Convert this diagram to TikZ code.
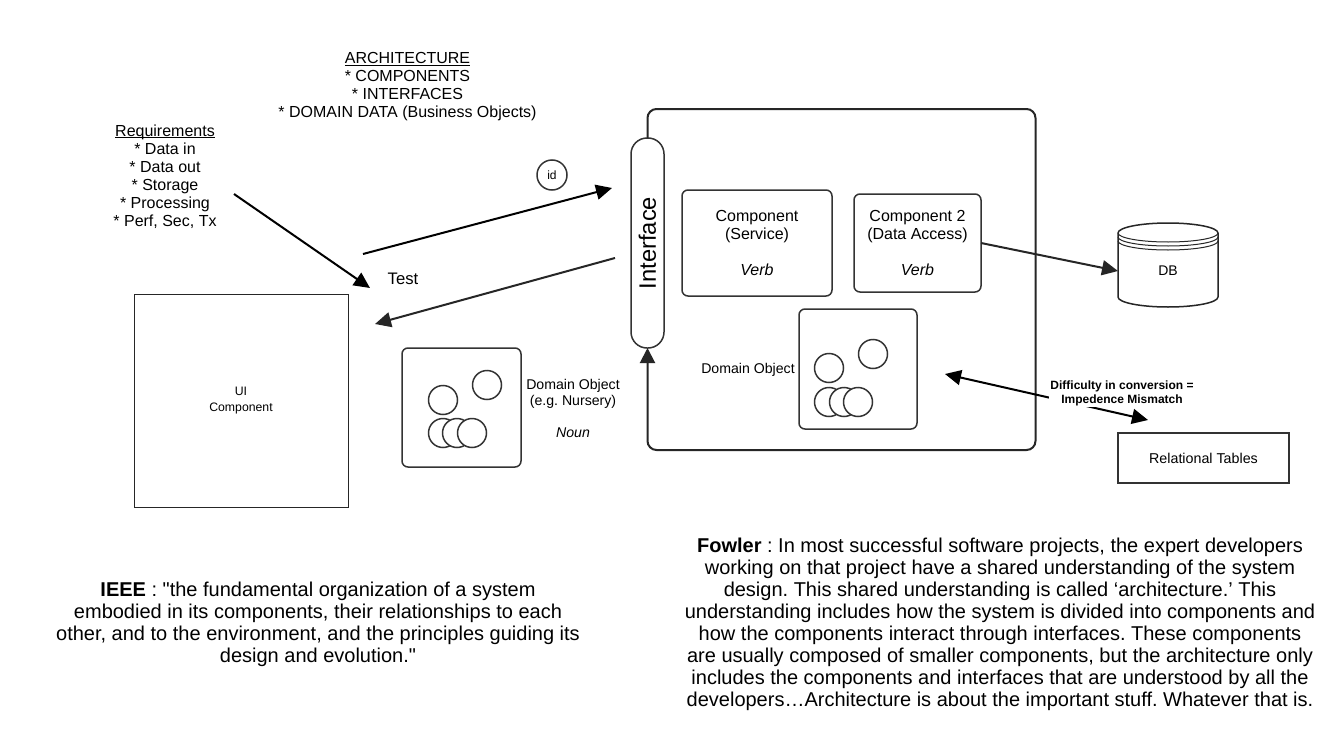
\documentclass[tikz,border=0pt]{standalone}
\usepackage{fontspec}
\setmainfont{Liberation Sans}
\newfontfamily\plainfont{Liberation Sans}
\usetikzlibrary{arrows.meta,positioning}
\def\u{.75pt}
\newsavebox\ulbox
\newcommand\ulined[1]{\sbox\ulbox{#1}\rlap{\rule[-1.4pt]{\wd\ulbox}{.6pt}}\usebox\ulbox}
\frenchspacing
\AtBeginDocument{\frenchspacing}
\tikzset{
  x=.75pt,y=-.75pt,
  box/.style={draw=black!80,line width=1.5*\u,rounded corners=6*\u,fill=white,inner sep=0pt,outer sep=0pt,align=center,font=\fontsize{12}{13.5}\selectfont},
  dot/.style={circle,draw=black!80,line width=1.5*\u,fill=white,minimum size=29*\u,inner sep=0pt,outer sep=0pt},
  arrow/.style={line width=2*\u,-{Triangle[length=16*\u,width=15*\u]}},
  small/.style={align=center,inner sep=0pt,font=\fontsize{12}{13.5}\selectfont},
  para/.style={align=center,inner sep=0pt,font=\fontsize{15}{16.5}\selectfont},
  square/.style={draw=black!85,inner sep=0pt,outer sep=0pt,align=center},
}
\begin{document}
\begin{tikzpicture}
\useasboundingbox[fill=white] (0,0) rectangle (1336,753);
% text blocks
\node[small] (arch) at (407.5,87) {\ulined{ARCHITECTURE}\\* COMPONENTS\\* INTERFACES\\* DOMAIN DATA (Business Objects)};
\node[small] (req) at (165,176.5) {\ulined{Requirements}\\* Data in\\* Data out\\* Storage\\* Processing\\* Perf, Sec, Tx};
% UI
\node[square,line width=1*\u,minimum width=214*\u,minimum height=213*\u,font=\fontsize{9.2}{12}\selectfont] (ui) at (241,400.5) {UI\\Component};
% interface + container
\node[box,rounded corners=16*\u,minimum width=33*\u,minimum height=210*\u,font=\fontsize{17.8}{18}\selectfont] (iface) at (647.5,243) {\rotatebox{90}{Interface}};
\draw[line width=2*\u,draw=black!85,rounded corners=9*\u,-{Triangle[length=15*\u,width=15*\u]}]
  (iface.north) -- (647.5,109) -- (1035.5,109) -- (1035.5,450) -- (647.5,450) -- (iface.south);
% components
\node[box,minimum width=150*\u,minimum height=106*\u] (c1) at (757,243) {Component\\(Service)\\[13.5pt]\textit{Verb}};
\node[box,minimum width=127*\u,minimum height=98*\u] (c2) at (917.5,243) {Component 2\\(Data Access)\\[13.5pt]\textit{Verb}};
% inner domain object
\node[box,minimum width=118*\u,minimum height=120*\u] (dobj) at (858,369) {};
\node[dot] (a1) at (829,368) {};
\node[dot] (a2) at (873,354) {};
\node[dot] (a3) at (829,402) {};
\node[dot] (a4) at (844,402) {};
\node[dot] (a5) at (858,402) {};
\node[small,font=\fontsize{10.6}{12}\selectfont,anchor=east] (dlabel) at (795,369.5) {Domain Object};
% left domain object
\node[box,minimum width=119*\u,minimum height=119*\u] (lobj) at (461.5,407.5) {};
\node[dot] (b1) at (443,400) {};
\node[dot] (b2) at (487,385) {};
\node[dot] (b3) at (443,433) {};
\node[dot] (b4) at (457,433) {};
\node[dot] (b5) at (472,433) {};
\node[small,font=\fontsize{10.6}{12.5}\selectfont] (llabel) at (573,408) {Domain Object\\(e.g. Nursery)\\[11pt]\textit{Noun}};
% id, Test
\node[circle,draw=black!80,line width=1.5*\u,minimum size=30*\u,inner sep=0pt,font=\fontsize{9}{10}\selectfont] (idn) at (552,175) {id};
\node[small,font=\fontsize{12.5}{14}\selectfont] (test) at (403,279) {Test};
% DB
\node[inner sep=0pt,outer sep=0pt,minimum width=100*\u,minimum height=20*\u,font=\fontsize{10.5}{12}\selectfont] (db) at (1168,271) {DB};
\draw[line width=1.5*\u,draw=black!85]
  (1118,233) arc[start angle=180,end angle=360,x radius=50,y radius=10]
  -- (1218,297) arc[start angle=0,end angle=180,x radius=50,y radius=10] -- cycle;
\draw[line width=1*\u,draw=black!85] (1118,233) arc[start angle=180,end angle=0,x radius=50,y radius=9];
\draw[line width=1*\u,draw=black!85] (1118,237) arc[start angle=180,end angle=0,x radius=50,y radius=9];
\draw[line width=1*\u,draw=black!85] (1118,241) arc[start angle=180,end angle=0,x radius=50,y radius=9];
% relational
\node[square,line width=1.5*\u,draw=black!80,minimum width=171*\u,minimum height=50*\u,font=\fontsize{10.7}{12}\selectfont] (rel) at (1203.5,458) {Relational Tables};
% arrows
\coordinate (s1) at (363,254);
\coordinate (e1) at (612,188);
\coordinate (s2) at (615,258);
\coordinate (e2) at (375,324);
\coordinate (s3) at (234,194);
\coordinate (e3) at (370,288);
\coordinate (s4) at (945,374);
\coordinate (e4) at (1148,420);
\draw[arrow] (s1) -- (e1);
\draw[arrow,draw=black!85] (s2) -- (e2);
\draw[arrow] (s3) -- (e3);
\draw[arrow,draw=black!85] (c2.east) -- (db.west);
\draw[line width=2*\u,{Triangle[length=16*\u,width=15*\u]}-{Triangle[length=16*\u,width=15*\u]}] (s4) -- (e4);
\node[fill=white,inner sep=1pt,align=center,font=\bfseries\fontsize{9}{10.5}\selectfont] (diff) at (1122,393.5) {Difficulty in conversion =\\Impedence Mismatch};
% paragraphs
\node[para] (ieee) at (318,624.5) {\textbf{IEEE} : {\plainfont"}the fundamental organization of a system\\embodied in its components, their relationships to each\\other, and to the environment, and the principles guiding its\\design and evolution.{\plainfont"}};
\node[para] (fowler) at (1000,624.5) {\textbf{Fowler} : In most successful software projects, the expert developers\\working on that project have a shared understanding of the system\\design. This shared understanding is called ‘architecture.’ This\\understanding includes how the system is divided into components and\\how the components interact through interfaces. These components\\are usually composed of smaller components, but the architecture only\\includes the components and interfaces that are understood by all the\\developers…Architecture is about the important stuff. Whatever that is.};
\end{tikzpicture}
\end{document}
